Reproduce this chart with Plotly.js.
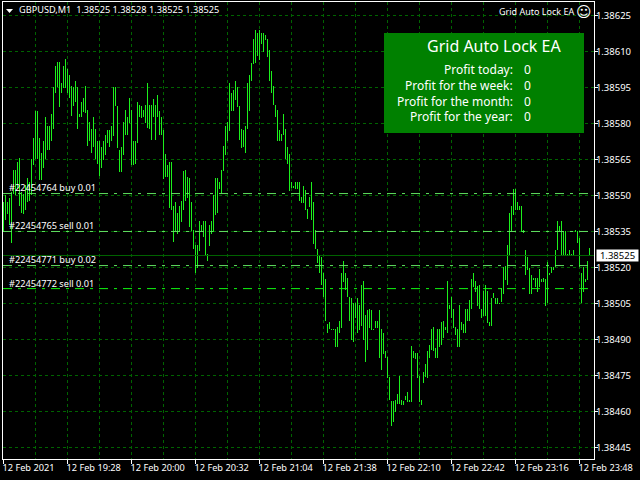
<!DOCTYPE html>
<html>
<head>
<meta charset="utf-8">
<script src="https://cdn.plot.ly/plotly-3.0.1.min.js"></script>
<style>html,body{margin:0;padding:0;background:#000}</style>
</head>
<body>
<div id="chart" style="width:640px;height:480px"></div>
<script>
// Minute-bar range, in points above 1.38000 (1 point = 0.00001)
const highPoints = [547.1,550.4,547.1,548.8,551.3,560.8,560.8,563.8,565.8,551.3,550.8,554.2,557.1,555.8,565,573.8,585,585,573.8,567.9,572.9,582.9,578.8,578.8,583.8,595,603.8,605.8,605.8,596.7,603.8,606.7,602.9,600,595.8,595,597.9,595,583.8,588.8,590.8,595.8,585.8,580.8,577.9,582.9,577.9,572.9,572.9,570,572.9,575,577.1,577.1,578.8,595,595,587.1,568.8,570,580.8,585.8,582.9,590.8,585.8,572.9,572.9,588.8,587.9,587.1,585.8,587.9,596.7,587.9,587.5,590,587.9,591.7,585,582.9,577.1,567.1,562.9,563.8,563.8,545.8,547.1,542.9,545.8,547.9,560,560.8,557.9,557.1,547.1,535.8,529.2,529.2,539.2,537.9,539.2,539.2,525.8,537.9,539.2,550,557.1,557.1,555.8,560.8,570.8,578.8,580.8,596.7,592.9,593.8,597.9,595,587.1,577.9,577.1,578.8,596.7,600,605,615,618.8,617.9,618.8,617.9,617.9,616.7,615,610.8,601.7,595.8,587.9,585.8,577.1,575.8,583.8,577.9,570,567.1,555.8,553.8,555.8,555.8,555.8,549.2,553.8,552.1,544.2,549.2,555.8,547.1,535.8,527.9,525,524.2,517.9,515,496.3,497.1,494.2,494.2,494.2,495,497.9,517.9,522.9,517.9,515.8,507.9,507.1,505,505,507.1,504.2,512.9,514.2,500,502.1,502.9,502.1,494.2,497.9,497.9,502.1,494.2,492.9,485,482.9,474.2,464.2,464.2,465,467.1,475,465,464.2,466.3,468.3,465,487.1,485,484.2,484.2,475,465,476.3,480,485,487.9,494.2,495,486.3,494.2,494.2,497.1,497.9,495,514.2,504.2,507.9,502.9,495,494.2,504.2,497.1,496.3,502.9,502.9,506.3,515,517.9,514.2,512.1,512.9,502.9,510,512.9,510,497.1,507.1,509.2,507.1,507.1,505,511.3,520,520.8,529.2,542.9,545.8,552.9,552.9,547.1,545.8,545.8,535.8,527.1,524.2,519.6,516.7,515.8,515.8,515.8,519.2,515.4,515.8,515,522.1,517.9,520,520,527.1,539.2,537.1,539.2,535.4,535,525.8,527.1,525.8,527.1,535.8,535,532.1,517.9,520.4,515,522.9,528];
const lowPoints = [534.6,539.6,542.1,537.5,530.4,550.8,550,552.9,545.8,542.5,542.1,543.8,547.1,547.9,550,562.5,565.4,565.4,556.3,556.3,561.3,565.4,568.8,568.8,572.5,577.9,592.5,595,586.7,592.5,594.6,594.6,592.9,590.8,583.3,587.1,588.8,577.5,582.5,582.9,584.6,584.2,570.8,572.5,567.5,570,565.4,563.3,558.3,561.3,564.6,566.7,571.7,570.4,572.5,574.6,587.1,569.6,559.6,559.6,566.7,575.4,575.4,580.4,562.5,562.5,563.3,571.7,582.5,582.1,582.5,580.4,578.3,577.5,573.3,582.5,573.3,582.5,575.4,575.4,556.7,557.5,557.5,544.6,543.8,530.8,535.4,533.8,535.4,538.8,543.8,547.9,548.8,536.7,535.4,527.5,517.5,519.6,526.7,535.4,532.5,525.4,522.5,528.8,533.8,534.6,541.7,542.5,552.9,550.8,560.4,566.7,572.5,576.7,585.4,585.4,589.6,586.7,573.3,569.6,570.4,567.5,577.5,585.4,597.5,604.6,605.4,608.3,606.3,613.3,609.6,614.6,607.9,597.5,592.5,587.9,582.5,572.5,572.5,572.5,575,565.4,563.3,551.7,553.3,553.3,552.5,552.5,547.5,546.7,546.7,543.8,540.4,545.4,539.6,529.6,527.5,521.7,517.5,512.5,507.5,497.5,492.5,494.2,493.8,493.8,486.7,486.7,492.5,494.6,513.8,510.8,507.5,497.5,489.6,488.8,498.8,492.5,493.8,495.8,489.6,480.8,485.8,494.6,493.8,493.8,494.6,494.6,482.5,477.5,483.8,482.5,473.8,464.6,453.8,455.8,459.6,463.3,463.3,462.9,462.9,464.6,463.8,463.8,463.8,482.5,481.7,473.8,463.8,462.9,471.7,474.2,473.8,482.5,485.8,485.4,482.5,482.5,486.7,487.5,490.8,493.8,492.5,502.5,498.8,494.6,491.7,486.7,486.7,493.8,492.5,492.5,497.5,497.5,502.5,511.7,509.6,503.8,502.5,498.8,499.6,499.6,496.7,495.8,495.8,507.1,504.6,504.6,504.6,505.8,508.8,514.6,512.5,525.4,535,541.7,543.8,543.8,543.8,534.6,534.2,516.7,518.8,508.8,508.8,514.6,511.7,509.6,511.7,513.8,513.8,503.8,505,516.7,517.5,518.8,520.4,527.1,535.4,524.6,524.6,524.6,524.6,524.6,524.6,524.6,534.6,530.4,520.4,505,509.6,513.8,514.6,525];

const timeLabels = ["12 Feb 2021","12 Feb 19:28","12 Feb 20:00","12 Feb 20:32","12 Feb 21:04","12 Feb 21:38","12 Feb 22:10","12 Feb 22:42","12 Feb 23:16","12 Feb 23:48"];
const timeLabelBars = [0,32,64,96,128,160,192,224,256,288];
const gridBars = [16,48,80,112,144,176,208,240,272];
const priceTicks = [1.38445,1.38460,1.38475,1.38490,1.38505,1.38520,1.38535,1.38550,1.38565,1.38580,1.38595,1.38610,1.38625];

const currentPrice = 1.38525;
const orderPrices = [1.385508,1.38535,1.385208,1.385112];
const orderColors = ["#60e060","#60e060","#60e060","#10f810"];
const orderLabels = ["#22454764 buy 0.01","#22454765 sell 0.01","#22454771 buy 0.02","#22454772 sell 0.01"];
const panelRows = ["Profit today:","Profit for the week:","Profit for the month:","Profit for the year:"];
const panelValues = ["0","0","0","0"];

const lows = lowPoints.map(p => +(1.38 + p / 1e5).toFixed(6));
const spans = highPoints.map((h, i) => (h - lowPoints[i]) / 1e5);
const barIndex = lows.map((_, i) => i);

const M = {l:3, t:2, r:46, b:21};
const W = 640, H = 480, PW = W - M.l - M.r, PH = H - M.t - M.b;
const px = v => (v - M.l) / PW;
const py = v => 1 - (v - M.t) / PH;
const FONT = "Noto Sans, sans-serif";
const GRID = "#006400", BAR = "#1cf01c";

function label(text, x, y, size, xanchor, color) {
  return {text, xref:"paper", yref:"paper", x:px(x), y:py(y), xanchor, yanchor:"middle",
          showarrow:false, borderpad:0, font:{family:FONT, size, color:color||"#fff"}};
}

const annotations = [
  label("GBPUSD,M1\u00a0\u00a01.38525 1.38528 1.38525 1.38525", 18, 10, 9.2, "left"),
  label("Grid Auto Lock EA", 575, 11, 9, "right"),
  {text:"\u263a", xref:"paper", yref:"paper", x:px(584), y:py(11.5), xanchor:"center", yanchor:"middle",
   showarrow:false, borderpad:0, font:{family:"DejaVu Sans", size:15, color:"#fff"}},
  label("Grid Auto Lock EA", 494, 46, 16, "center"),
  {text:"1.38525", xref:"paper", yref:"y", x:px(596), y:currentPrice, xanchor:"left", yanchor:"middle",
   showarrow:false, borderpad:0, bgcolor:"#fff", width:41, height:11, align:"center",
   font:{family:FONT, size:9.5, color:"#000"}}
];
[69,85,101,117].forEach((y, i) => {
  annotations.push(label(panelRows[i], 514, y, 12, "right"));
  annotations.push(label(panelValues[i], 527, y, 12, "center"));
});
[187,226,259,283].forEach((y, i) => annotations.push(label(orderLabels[i], 8, y, 9.2, "left")));

const shapes = orderPrices.map((p, i) => ({
  type:"line", xref:"x", yref:"y", x0:-0.25, x1:292.5, y0:p, y1:p,
  line:{color:orderColors[i], width:1, dash:"9px,6px,3px,6px"}
}));
shapes.push({type:"line", xref:"paper", yref:"y", x0:0, x1:1, y0:currentPrice, y1:currentPrice,
             line:{color:GRID, width:1}});
shapes.push({type:"rect", xref:"paper", yref:"paper", x0:px(384), x1:px(584), y0:py(133), y1:py(33),
             fillcolor:"#008000", line:{width:0}});
shapes.push({type:"path", xref:"paper", yref:"paper", fillcolor:"#fff", line:{width:0},
             path:`M ${px(6)} ${py(9)} L ${px(13)} ${py(9)} L ${px(9.5)} ${py(13)} Z`});

const trace = {
  type:"bar", x:barIndex, base:lows, y:spans, width:0.5,
  marker:{color:BAR, line:{width:0}}, hoverinfo:"skip"
};

const layout = {
  width:W, height:H, margin:M, paper_bgcolor:"#000", plot_bgcolor:"#000",
  showlegend:false, bargap:0, font:{family:FONT, size:9.2, color:"#fff"},
  xaxis:{
    range:[-0.25,295.25], tickmode:"array", tickvals:timeLabelBars, ticktext:timeLabels,
    ticks:"outside", ticklen:4, tickcolor:"#fff", tickwidth:1, ticklabelposition:"outside right", tickangle:0, ticklabelshift:-2,
    showline:true, linecolor:"#fff", linewidth:1, mirror:true,
    showgrid:true, gridcolor:GRID, griddash:"3px,3px", gridwidth:1, zeroline:false,
    minor:{tickmode:"array", tickvals:gridBars, showgrid:true, gridcolor:GRID, griddash:"3px,3px", gridwidth:1, ticks:""},
    tickfont:{family:FONT, size:9.2, color:"#fff"}, automargin:false
  },
  yaxis:{
    side:"right", range:[1.3844021,1.3863061], tickmode:"array", tickvals:priceTicks, tickformat:".5f",
    ticks:"outside", ticklen:3, tickcolor:"#fff", tickwidth:1, ticklabelstandoff:-4,
    showline:true, linecolor:"#fff", linewidth:1, mirror:true,
    showgrid:true, gridcolor:GRID, griddash:"3px,3px", gridwidth:1, zeroline:false,
    tickfont:{family:FONT, size:9.5, color:"#fff"}, automargin:false
  },
  shapes, annotations
};

Plotly.newPlot("chart", [trace], layout, {staticPlot:true, displayModeBar:false});
</script>
</body>
</html>
